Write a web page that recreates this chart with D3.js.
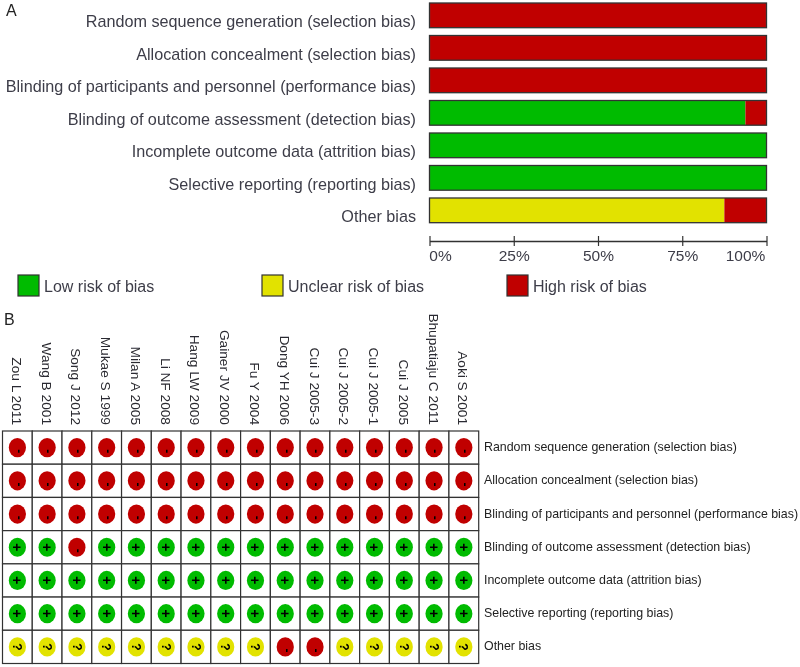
<!DOCTYPE html>
<html><head><meta charset="utf-8">
<script src="https://cdnjs.cloudflare.com/ajax/libs/d3/7.8.5/d3.min.js"></script>
<style>html,body{margin:0;padding:0;background:#fff}svg{display:block;font-family:"Liberation Sans",Arial,sans-serif}</style>
</head><body><div id="c"></div>
<script>
const domains = ["Random sequence generation (selection bias)","Allocation concealment (selection bias)","Blinding of participants and personnel (performance bias)","Blinding of outcome assessment (detection bias)","Incomplete outcome data (attrition bias)","Selective reporting (reporting bias)","Other bias"];
const lowPct = [0,0,0,93.75,100,100,0];
const unclearPct = [0,0,0,0,0,0,87.5];
const highPct = [100,100,100,6.25,0,0,12.5];
const pctTicks = [0,25,50,75,100];
const riskNames = ["Low risk of bias","Unclear risk of bias","High risk of bias"];
const studies = ["Zou L 2011","Wang B 2001","Song J 2012","Mukae S 1999","Milan A 2005","Li NF 2008","Hang LW 2009","Gainer JV 2000","Fu Y 2004","Dong YH 2006","Cui J 2005-3","Cui J 2005-2","Cui J 2005-1","Cui J 2005","Bhupatiaju C 2011","Aoki S 2001"];
const judge1 = ["-","-","-","-","-","-","-","-","-","-","-","-","-","-","-","-"];
const judge2 = ["-","-","-","-","-","-","-","-","-","-","-","-","-","-","-","-"];
const judge3 = ["-","-","-","-","-","-","-","-","-","-","-","-","-","-","-","-"];
const judge4 = ["+","+","-","+","+","+","+","+","+","+","+","+","+","+","+","+"];
const judge5 = ["+","+","+","+","+","+","+","+","+","+","+","+","+","+","+","+"];
const judge6 = ["+","+","+","+","+","+","+","+","+","+","+","+","+","+","+","+"];
const judge7 = ["?","?","?","?","?","?","?","?","?","-","-","?","?","?","?","?"];
const judgements = [judge1,judge2,judge3,judge4,judge5,judge6,judge7];

const GREEN="#00bb00", YELLOW="#e2e200", RED="#c00000", INK="#3d3d48", LINE="#333333";
const colorOf={"+":GREEN,"?":YELLOW,"-":RED};

const svg=d3.select("#c").append("svg").attr("width",800).attr("height",667);
const defs=svg.append("defs");
defs.append("filter").attr("id","soft").attr("x","-5%").attr("y","-5%").attr("width","110%").attr("height","110%")
  .append("feGaussianBlur").attr("stdDeviation",0.3);
const root=svg.append("g").attr("filter","url(#soft)");

root.append("text").attr("x",6).attr("y",15.5).attr("font-size",16).attr("fill","#222").text("A");
root.append("text").attr("x",4).attr("y",325).attr("font-size",16).attr("fill","#222").text("B");

// Panel A
const x=d3.scaleLinear().domain([0,100]).range([429.5,766.5]);
const y=d3.scaleBand().domain(domains).range([3,222.7]).paddingInner(0.24).paddingOuter(0);
const stacks=domains.map((d,i)=>[["+",0,lowPct[i]],["?",lowPct[i],lowPct[i]+unclearPct[i]],["-",lowPct[i]+unclearPct[i],100]].filter(s=>s[2]>s[1]));
const rows=root.selectAll("g.bar").data(domains).join("g").attr("class","bar").attr("transform",d=>`translate(0,${y(d)})`);
rows.each(function(d,i){
  const g=d3.select(this);
  g.selectAll("rect.s").data(stacks[i]).join("rect").attr("class","s")
    .attr("x",s=>x(s[1])).attr("width",s=>x(s[2])-x(s[1])).attr("y",0).attr("height",y.bandwidth())
    .attr("fill",s=>colorOf[s[0]]);
  g.append("rect").attr("x",x(0)).attr("width",x(100)-x(0)).attr("y",0).attr("height",y.bandwidth())
    .attr("fill","none").attr("stroke",LINE).attr("stroke-width",1.3);
  g.append("text").attr("x",416).attr("y",y.bandwidth()/2+12).attr("text-anchor","end").attr("font-size",16.2).attr("fill",INK).text(d);
});
const ax=root.append("g").attr("transform","translate(0,241)")
  .call(d3.axisBottom(x).tickValues(pctTicks).tickSize(5).tickSizeOuter(0).tickFormat(d=>d+"%"));
ax.selectAll(".domain").attr("stroke",LINE).attr("stroke-width",1.3);
ax.selectAll(".tick line").attr("y1",-5).attr("y2",5).attr("stroke",LINE).attr("stroke-width",1.2);
ax.selectAll(".tick text").attr("y",9).attr("dy","0.71em").attr("font-size",15.5).attr("font-family","Liberation Sans").attr("fill",INK)
  .attr("text-anchor","middle").attr("dx",(d,i)=>[10.5,0,0,0,-21.5][i]);

// Legend
const legX=d3.scaleOrdinal().domain(riskNames).range([18,262,507]);
const legC=d3.scaleOrdinal().domain(riskNames).range([GREEN,YELLOW,RED]);
const lg=root.selectAll("g.leg").data(riskNames).join("g").attr("class","leg").attr("transform",d=>`translate(${legX(d)},275)`);
lg.append("rect").attr("width",21).attr("height",21).attr("fill",d=>legC(d)).attr("stroke",LINE).attr("stroke-width",1.2);
lg.append("text").attr("x",26).attr("y",17).attr("font-size",16).attr("fill",INK).text(d=>d);

// Panel B
const cx=d3.scaleBand().domain(studies).range([2.5,478.7]);
const cy=d3.scaleBand().domain(domains).range([431,663.5]);
root.append("g").selectAll("text").data(studies).join("text")
  .attr("transform",d=>`translate(${cx(d)+cx.bandwidth()/2-5.5},425) rotate(90)`)
  .attr("text-anchor","end").attr("font-size",13.7).attr("fill","#2a2a30").text(d=>d);
const cells=root.append("g");
domains.forEach((dom,r)=>{
  const g=cells.append("g");
  g.selectAll("rect").data(studies).join("rect")
    .attr("x",d=>cx(d)).attr("y",cy(dom)).attr("width",cx.bandwidth()).attr("height",cy.bandwidth())
    .attr("fill","#fff").attr("stroke",LINE).attr("stroke-width",1.2);
  const m=g.selectAll("g.m").data(studies.map((s,i)=>({s,v:judgements[r][i]}))).join("g").attr("class","m")
    .attr("transform",d=>`translate(${cx(d.s)+cx.bandwidth()/2},${cy(dom)+cy.bandwidth()/2})`);
  m.append("ellipse").attr("rx",8.6).attr("ry",9.6).attr("fill",d=>colorOf[d.v]);
  m.append("text").attr("transform",d=>d.v==="-"?"translate(1.6,3.6) rotate(90)":"rotate(90)").attr("text-anchor","middle").attr("dy","0.36em")
    .attr("font-size",d=>d.v==="+"?14:12).attr("font-weight","bold").attr("fill","#000").text(d=>d.v);
});
root.append("g").selectAll("text").data(domains).join("text")
  .attr("x",484).attr("y",d=>cy(d)+cy.bandwidth()/2+3.5).attr("font-size",12.4).attr("fill","#222").text(d=>d);
</script></body></html>
